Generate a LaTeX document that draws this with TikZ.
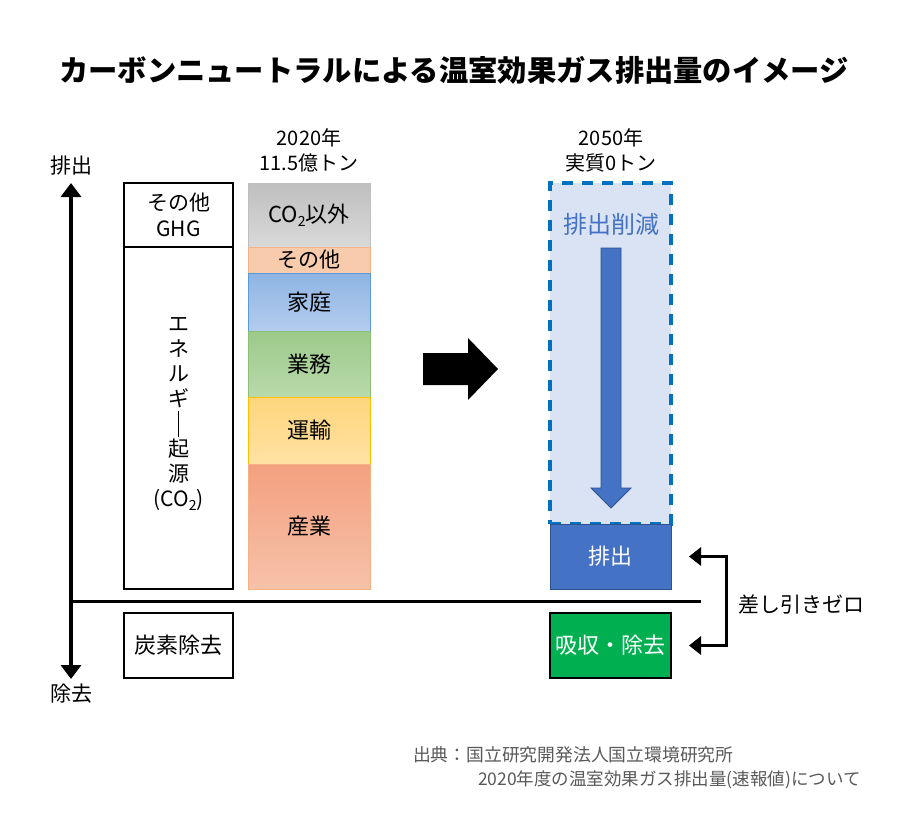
\documentclass[tikz,border=0pt]{standalone}
\usepackage{fontspec}
\setmainfont{Noto Sans CJK JP}
\usepackage{graphicx}
\usetikzlibrary{arrows.meta}
\definecolor{grayT}{HTML}{BFBFBF}
\definecolor{grayB}{HTML}{D9D9D9}
\definecolor{peach}{HTML}{F8CBAD}
\definecolor{peachD}{HTML}{F4B183}
\definecolor{bluT}{HTML}{8EB4E3}
\definecolor{bluB}{HTML}{B4CCEE}
\definecolor{bluD}{HTML}{5B9BD5}
\definecolor{grnT}{HTML}{9CC98A}
\definecolor{grnB}{HTML}{B9DAAB}
\definecolor{grnD}{HTML}{8CC077}
\definecolor{yelT}{HTML}{FED57C}
\definecolor{yelB}{HTML}{FFE2A4}
\definecolor{yelD}{HTML}{FFC000}
\definecolor{salT}{HTML}{F4A07F}
\definecolor{salB}{HTML}{F6C2AA}
\definecolor{blueA}{HTML}{4472C4}
\definecolor{blueD}{HTML}{2F528F}
\definecolor{dashfill}{HTML}{DAE3F3}
\definecolor{dashblue}{HTML}{0070C0}
\definecolor{greenA}{HTML}{00B050}
\definecolor{srcgray}{HTML}{595959}
\newcommand{\subtwo}{\raisebox{-0.35ex}{\fontsize{14}{14}\selectfont 2}}
\newcommand{\vbar}{\raisebox{-6pt}{\rule{1.1pt}{26pt}}}
\begin{document}
\begin{tikzpicture}[x=1pt,y=-1pt,
  every node/.style={inner sep=0pt, outer sep=0pt},
  wbox/.style={rectangle, draw=black, line width=1.8pt, fill=white, anchor=north west, minimum width=109pt},
  seg/.style={rectangle, anchor=north west, minimum width=122pt, line width=0.8pt},
  lab/.style={font=\fontsize{21}{26}\selectfont, align=center},
  small/.style={font=\fontsize{20}{25}\selectfont, align=center},
  rbox/.style={rectangle, anchor=north west, minimum width=121pt, minimum height=65pt, text=white, font=\fontsize{22}{22}\selectfont},
  bigarrow/.style={line width=3pt, {Triangle[width=18pt,length=12pt]}-{Triangle[width=18pt,length=12pt]}},
]
\useasboundingbox (0,0) rectangle (908,836);
% title
\node[font=\fontsize{29.3}{30}\selectfont\bfseries] (title) at (454,70) {カーボンニュートラルによる温室効果ガス排出量のイメージ};
% axes
\coordinate (axt) at (71,183);
\coordinate (axb) at (71,679);
\draw[line width=4pt, {Triangle[width=20pt,length=14pt]}-{Triangle[width=20pt,length=14pt]}] (axt) -- (axb);
\node[lab] (ylabup) at (71,166) {排出};
\node[lab] (ylabdn) at (71,694) {除去};
\coordinate (h1) at (71,601);
\coordinate (h2) at (701,601);
\draw[line width=3pt] (h1) -- (h2);
% left white boxes
\node[wbox, minimum height=64pt, lab] (ghg) at (124,183) {その他\\GHG};
\node[wbox, minimum height=342pt] (energy) at (124,247) {};
\node[lab, font=\fontsize{21}{25}\selectfont] (enetxt) at ([yshift=4pt]energy.center) {エ\\ネ\\ル\\ギ\\\vbar\\起\\源\\(CO\subtwo)};
\node[wbox, minimum height=65pt, font=\fontsize{22}{22}\selectfont] (removal) at (124,613) {炭素除去};
% 2020 bar
\node[small] (y2020) at (309,150) {2020年\\11.5億トン};
\node[seg, minimum height=64pt, top color=grayT, bottom color=grayB, draw=grayT, font=\fontsize{22}{22}\selectfont] (co2) at (248,183) {CO\subtwo 以外};
\node[seg, minimum height=26pt, fill=peach, draw=peachD, font=\fontsize{21}{21}\selectfont] (other) at (248,247) {その他};
\node[seg, minimum height=58pt, top color=bluT, bottom color=bluB, draw=bluD, font=\fontsize{22}{22}\selectfont] (home) at (248,273) {家庭};
\node[seg, minimum height=66pt, top color=grnT, bottom color=grnB, draw=grnD, font=\fontsize{22}{22}\selectfont] (biz) at (248,331) {業務};
\node[seg, minimum height=67pt, top color=yelT, bottom color=yelB, draw=yelD, font=\fontsize{22}{22}\selectfont] (trans) at (248,397) {運輸};
\node[seg, minimum height=125pt, top color=salT, bottom color=salB, draw=peachD, font=\fontsize{22}{22}\selectfont] (ind) at (248,464) {産業};
% big black arrow
\fill[black] (423,353) -- (468,353) -- (468,338) -- (498,369) -- (468,400) -- (468,385) -- (423,385) -- cycle;
% 2050
\node[small] (y2050) at (611,150) {2050年\\実質0トン};
\node[rectangle, anchor=north west, minimum width=121pt, minimum height=341pt, fill=dashfill, draw=dashblue, line width=3.5pt, dash pattern=on 11pt off 9pt] (reduct) at (550,183) {};
\node[font=\fontsize{24}{24}\selectfont, text=blueA] (redtxt) at (611,224) {排出削減};
\filldraw[fill=blueA, draw=blueD, line width=0.8pt] (601,248) -- (621,248) -- (621,488) -- (631,488) -- (611,508) -- (591,488) -- (601,488) -- cycle;
\node[rbox, fill=blueA, draw=blueD, line width=1pt] (emit) at (550,524) {排出};
\node[rbox, fill=greenA, draw=black, line width=1.8pt] (absorb) at (550,613) {吸収・除去};
\draw[bigarrow] ([xshift=18pt]emit.east) -- ++(37,0) |- ([xshift=18pt]absorb.east);
\node[lab, anchor=west] (zero) at (738,605) {差し引きゼロ};
% source
\node[anchor=west, text=srcgray, font=\fontsize{17.8}{18}\selectfont] (src1) at (413,755) {出典：国立研究開発法人国立環境研究所};
\node[anchor=west, text=srcgray, font=\fontsize{17.5}{18}\selectfont] (src2) at (478,780) {2020年度の温室効果ガス排出量(速報値)について};
\end{tikzpicture}
\end{document}
